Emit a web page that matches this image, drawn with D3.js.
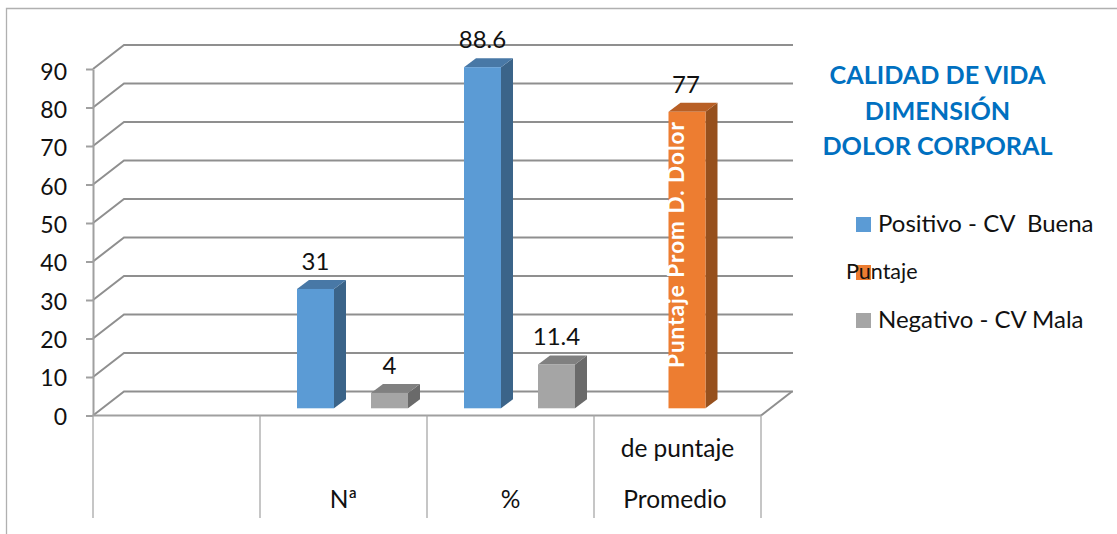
<!DOCTYPE html>
<html><head><meta charset="utf-8">
<script src="https://d3js.org/d3.v7.min.js"></script>
<style>html,body{margin:0;padding:0;background:#fff}svg{display:block}text{font-family:Lato,"Open Sans",sans-serif;white-space:pre}</style>
</head><body><svg id="c" width="1117" height="534"></svg>
<script>
const categories = ["", "Nª", "%", "Promedio"];
const categorySecondLine = ["", "", "", "de puntaje"];
const seriesNames = ["Positivo - CV  Buena", "Puntaje", "Negativo - CV Mala"];
const positivo = [null, 31, 88.6, null];
const puntaje = [null, null, null, 77];
const negativo = [null, 4, 11.4, null];
const yTicks = [0, 10, 20, 30, 40, 50, 60, 70, 80, 90];
const titleLines = ["CALIDAD DE VIDA", "DIMENSIÓN", "DOLOR CORPORAL"];
const barNote = "Puntaje Prom D. Dolor";
const colors = {front:["#5b9bd5","#ed7d31","#a5a5a5"], top:["#4878a6","#b85f25","#808080"], side:["#3b6489","#96501d","#6a6a6a"]};

const svg = d3.select("#c");
const y = d3.scaleLinear().domain([0,90]).range([415.5,69]);
const tickBaseline = d3.scaleLinear().domain([0,90]).range([424,79]);
const x = d3.scaleBand().domain(d3.range(categories.length)).range([93,761]);
const inner = d3.scaleBand().domain(d3.range(3)).range([37,148]);
const depth = {x:31,y:-24}, barDepth = {x:12,y:-9}, barLift = 7.2;

// frame
svg.append("path").attr("d","M6.5 534V8.5H1117").attr("fill","none").attr("stroke","#b0b0b0").attr("stroke-width",1.3);

// gridlines on side wall and back wall
const gridColor = "#8f8f8f";
svg.append("g").selectAll("path").data(yTicks).join("path")
  .attr("d",d=>{const p=d3.path();p.moveTo(93,y(d));p.lineTo(93+depth.x,y(d)+depth.y);p.lineTo(793,y(d)+depth.y);return p.toString();})
  .attr("fill","none").attr("stroke",gridColor).attr("stroke-width",2);

// floor edge
const floor = d3.path();floor.moveTo(761,y(0));floor.lineTo(761+depth.x,y(0)+depth.y);
svg.append("path").attr("d",floor.toString()).attr("fill","none").attr("stroke",gridColor).attr("stroke-width",2);

// y axis
const yAxis = d3.axisLeft(y).tickValues(yTicks).tickSize(7).tickSizeOuter(0).tickPadding(19);
const gy = svg.append("g").attr("transform","translate(93,0)").call(yAxis);
gy.selectAll("path,line").attr("stroke","#a0a0a0").attr("stroke-width",2);
gy.selectAll("text").attr("font-size",23).attr("fill","#111").attr("font-family","Lato")
  .attr("dy",0).attr("y",d=>tickBaseline(d)-y(d));

// x axis line and dividers
svg.append("line").attr("x1",93).attr("x2",761).attr("y1",y(0)).attr("y2",y(0)).attr("stroke","#a0a0a0").attr("stroke-width",2.2);
svg.append("g").selectAll("line").data(d3.range(categories.length+1)).join("line")
  .attr("x1",i=>93+i*x.step()).attr("x2",i=>93+i*x.step()).attr("y1",y(0)).attr("y2",518)
  .attr("stroke","#a8a8a8").attr("stroke-width",1.3);

// bars
[positivo,puntaje,negativo].forEach((vals,s)=>{
  const g = svg.append("g");
  vals.forEach((v,c)=>{
    if(v==null) return;
    const x0 = x(c)+inner(s)+(s==1?0.5:0), w = inner.bandwidth(), top = y(v)-barLift, base = y(0)-barLift;
    const P = a=>a.map(q=>q.join(",")).join(" ");
    g.append("polygon").attr("fill",colors.side[s]).attr("points",P([[x0+w,top],[x0+w+barDepth.x,top+barDepth.y],[x0+w+barDepth.x,base+barDepth.y],[x0+w,base]]));
    g.append("polygon").attr("fill",colors.top[s]).attr("points",P([[x0,top],[x0+barDepth.x,top+barDepth.y],[x0+w+barDepth.x,top+barDepth.y],[x0+w,top]]));
    g.append("rect").attr("x",x0).attr("y",top).attr("width",w).attr("height",base-top).attr("fill",colors.front[s]);
    g.append("text").attr("x",x0+w/2+(s==1?-1:0)).attr("y",top-19).attr("text-anchor","middle").attr("font-size",24).attr("fill","#111").text(v);
    if(s==1){
      g.append("text").attr("transform",`translate(${x0+15},368) rotate(-90)`).attr("font-size",22.5).attr("font-weight",700).attr("fill","#fff").attr("textLength",246).text(barNote);
    }
  });
});

// category labels
const catG = svg.append("g").attr("text-anchor","middle").attr("font-size",24.5).attr("fill","#111");
catG.selectAll(".a").data(categories).join("text").attr("class","a")
  .attr("x",(d,i)=>x(i)+x.bandwidth()*(i==3?0.485:0.5)).attr("y",508).text(d=>d);
catG.selectAll(".b").data(categorySecondLine).join("text").attr("class","b")
  .attr("x",(d,i)=>x(i)+x.bandwidth()/2).attr("y",457).text(d=>d);

// title
svg.append("g").selectAll("text").data(titleLines).join("text")
  .attr("x",937.5).attr("y",(d,i)=>84+i*35.5).attr("text-anchor","middle").attr("font-size",25.2).attr("font-weight",700).attr("fill","#0070c0").text(d=>d);

// legend
const legY = d3.scalePoint().domain(seriesNames).range([224.5,320.5]);
const leg = svg.append("g");
leg.selectAll("rect").data(seriesNames).join("rect").attr("x",856).attr("y",d=>legY(d)-7.5).attr("width",15).attr("height",15).attr("fill",(d,i)=>colors.front[i]);
leg.selectAll("text").data(seriesNames).join("text")
  .attr("x",(d,i)=>i==1?846:878).attr("y",(d,i)=>i==1?279:legY(d)+7)
  .attr("font-size",(d,i)=>i==1?21.5:24).attr("fill","#111").text(d=>d);
</script></body></html>
